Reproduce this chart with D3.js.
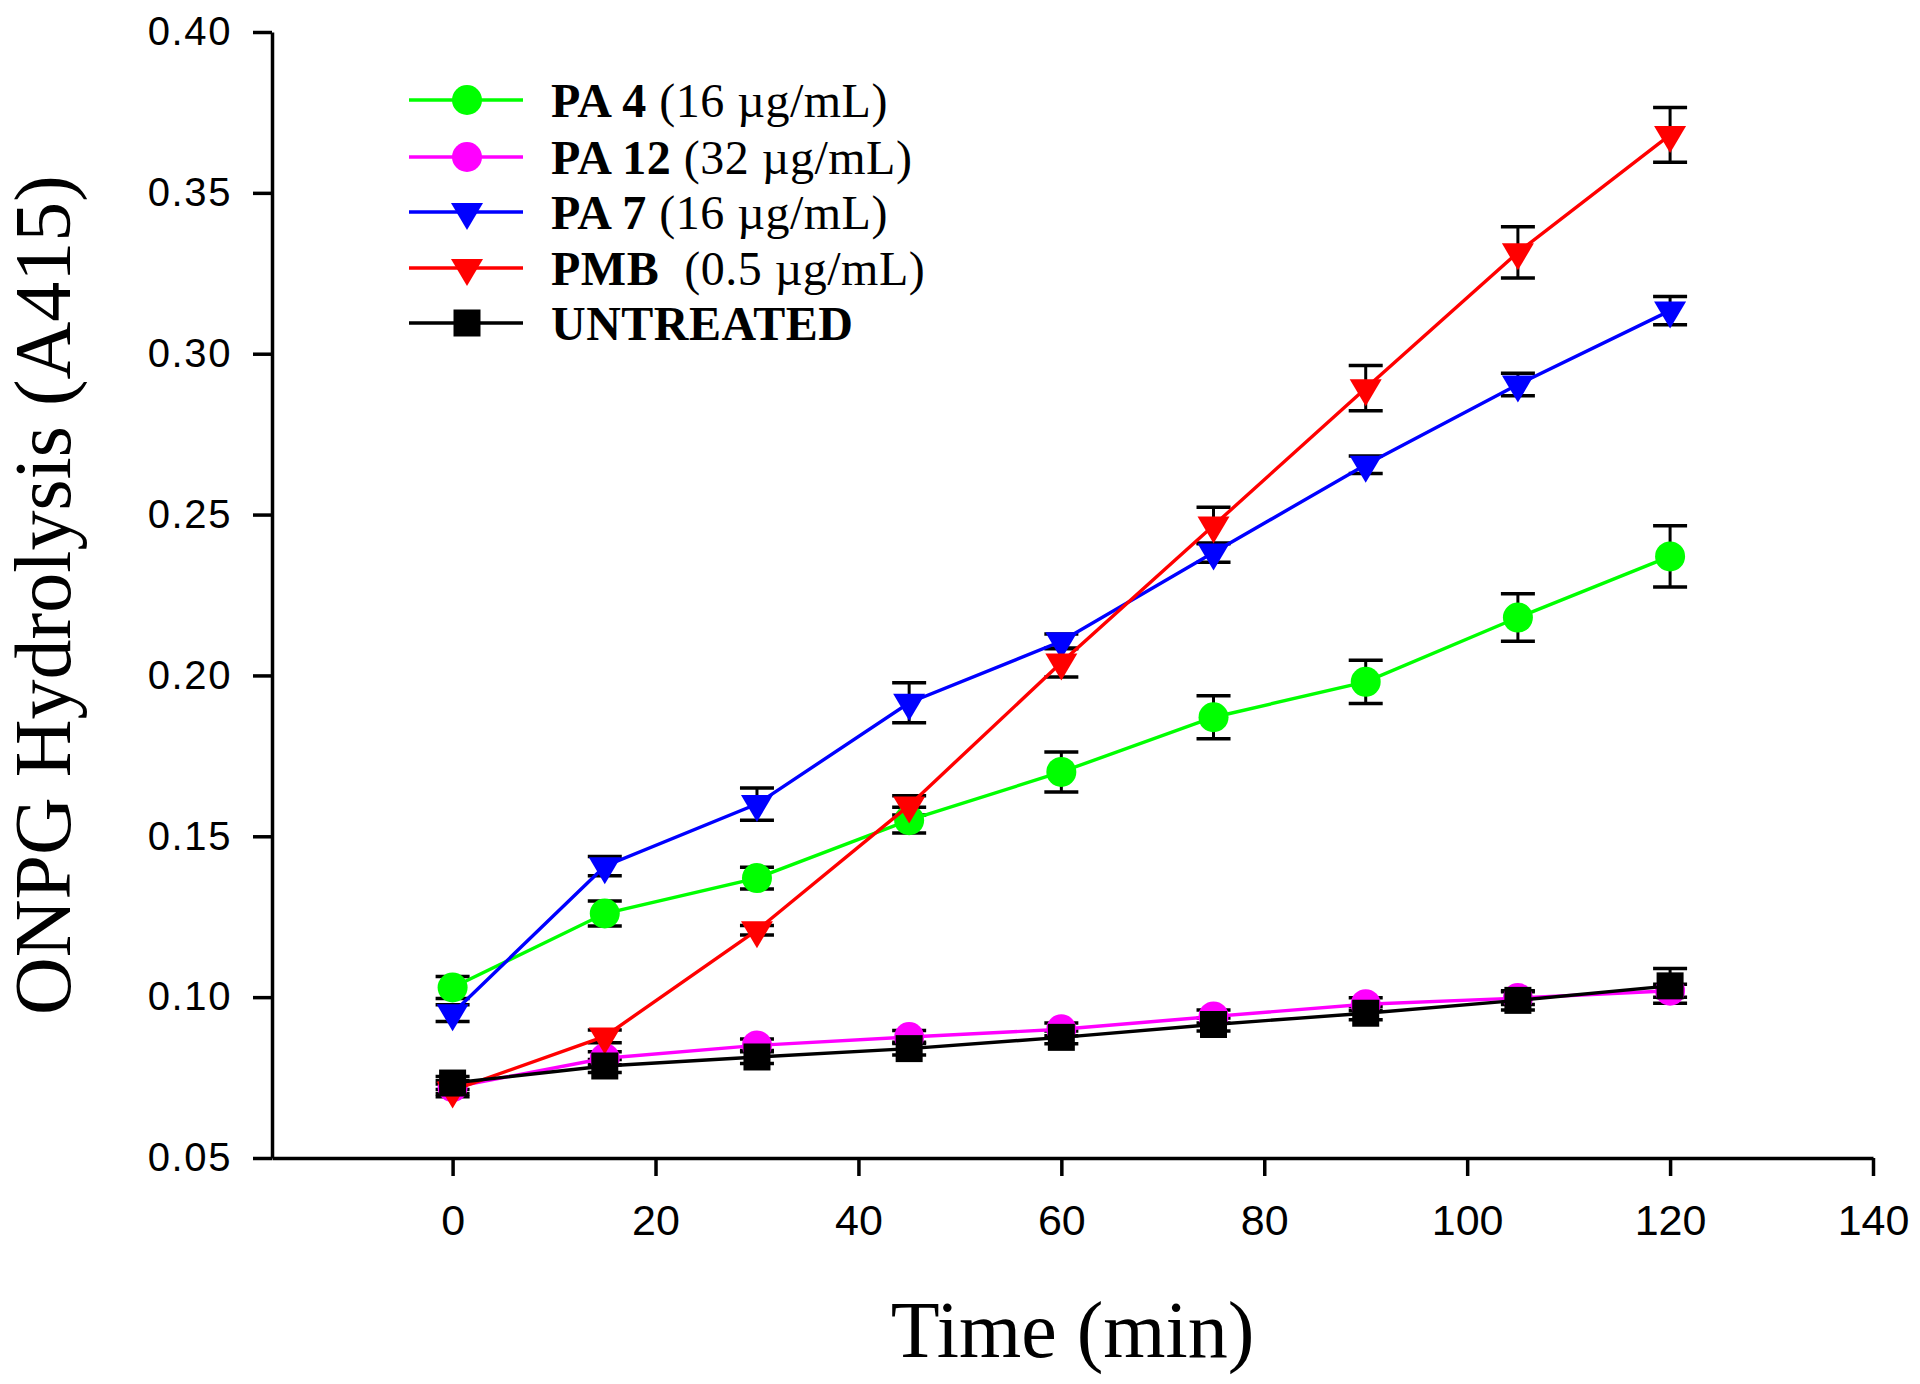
<!DOCTYPE html>
<html>
<head>
<meta charset="utf-8">
<script src="https://cdn.jsdelivr.net/npm/d3@7"></script>
<style>
  html, body { margin: 0; padding: 0; background: #fff; }
  svg { display: block; }
</style>
</head>
<body>
<svg id="chart" width="1920" height="1384"></svg>
<script>
// ---- data ----
const time = [0, 15, 30, 45, 60, 75, 90, 105, 120];
const pa4 = [0.103, 0.126, 0.137, 0.155, 0.170, 0.187, 0.198, 0.218, 0.237];
const pa4Err = [0.0034, 0.0039, 0.0034, 0.004, 0.0062, 0.0067, 0.0067, 0.0074, 0.0095];
const pa12 = [0.072, 0.081, 0.085, 0.0876, 0.090, 0.094, 0.0978, 0.0997, 0.102];
const pa12Err = [0.002, 0.002, 0.002, 0.002, 0.002, 0.002, 0.002, 0.002, 0.002];
const pa7 = [0.095, 0.1407, 0.160, 0.1915, 0.2106, 0.2382, 0.2655, 0.2904, 0.3134];
const pa7Err = [0.0026, 0.003, 0.005, 0.0062, 0.0023, 0.003, 0.0027, 0.0035, 0.0044];
const pmb = [0.071, 0.0878, 0.1208, 0.1596, 0.204, 0.2466, 0.2893, 0.3315, 0.368];
const pmbErr = [0.002, 0.002, 0.0015, 0.003, 0.0045, 0.0057, 0.007, 0.008, 0.0085];
const untreated = [0.0733, 0.0786, 0.0814, 0.084, 0.0875, 0.0915, 0.095, 0.099, 0.1035];
const untreatedErr = [0.002, 0.002, 0.002, 0.002, 0.002, 0.002, 0.002, 0.003, 0.0054];

const seriesNames = ["PA 4", "PA 12", "PA 7", "PMB", "UNTREATED"];
const seriesConc = [" (16 µg/mL)", " (32 µg/mL)", " (16 µg/mL)", "  (0.5 µg/mL)", ""];
const seriesColors = ["#00ff00", "#ff00ff", "#0000ff", "#ff0000", "#000000"];
const seriesShapes = ["circle", "circle", "triangle", "triangle", "square"];
const seriesValues = [pa4, pa12, pa7, pmb, untreated];
const seriesErrors = [pa4Err, pa12Err, pa7Err, pmbErr, untreatedErr];

const xTicks = [0, 20, 40, 60, 80, 100, 120, 140];
const yTicks = [0.05, 0.10, 0.15, 0.20, 0.25, 0.30, 0.35, 0.40];
const xDomain = [-17.8, 140];
const yDomain = [0.05, 0.40];
const xTitle = "Time (min)";
const yTitle = "ONPG Hydrolysis (A415)";

// ---- layout ----
const margin = { left: 272, right: 1920 - 1873, top: 32, bottom: 1384 - 1158 };
const W = 1920, H = 1384;
const svg = d3.select("#chart");

const x = d3.scaleLinear().domain(xDomain).range([margin.left, W - margin.right]);
const y = d3.scaleLinear().domain(yDomain).range([H - margin.bottom, margin.top]);

const sansFont = "'Liberation Sans', Arial, sans-serif";
const serifFont = "'Liberation Serif', 'Times New Roman', serif";

// axes
const yAxis = d3.axisLeft(y).tickValues(yTicks).tickFormat(d3.format(".2f"))
  .tickSizeInner(19).tickSizeOuter(0).tickPadding(21);
const xAxis = d3.axisBottom(x).tickValues(xTicks).tickFormat(d3.format("d"))
  .tickSizeInner(18).tickSizeOuter(0).tickPadding(28);

const gy = svg.append("g").attr("transform", `translate(${margin.left},0)`).call(yAxis);
const gx = svg.append("g").attr("transform", `translate(0,${H - margin.bottom})`).call(xAxis);

[gx, gy].forEach(g => {
  g.select(".domain").attr("stroke", "#000").attr("stroke-width", 3.5);
  g.selectAll(".tick line").attr("stroke", "#000").attr("stroke-width", 3.5);
  g.selectAll(".tick text").attr("fill", "#000").attr("font-family", sansFont);
});
gy.selectAll(".tick text").attr("font-size", 40).style("letter-spacing", "1.6px");
gx.selectAll(".tick text").attr("font-size", 43);

// titles
svg.append("text")
  .attr("x", (x.range()[0] + x.range()[1]) / 2)
  .attr("y", 1357)
  .attr("text-anchor", "middle")
  .attr("font-family", serifFont)
  .attr("font-size", 80)
  .attr("fill", "#000")
  .text(xTitle);

svg.append("text")
  .attr("transform", `translate(70,${(y.range()[0] + y.range()[1]) / 2}) rotate(-90)`)
  .attr("text-anchor", "middle")
  .attr("font-family", serifFont)
  .attr("font-size", 80)
  .attr("fill", "#000")
  .text(yTitle);

// marker generator
function markerPath(shape) {
  if (shape === "circle") return d3.symbol().type(d3.symbolCircle).size(Math.PI * 15 * 15)();
  if (shape === "square") return d3.symbol().type(d3.symbolSquare).size(27 * 27)();
  // downward triangle, centroid at origin
  const p = d3.path();
  p.moveTo(-16, -9); p.lineTo(16, -9); p.lineTo(0, 18); p.closePath();
  return p.toString();
}

// error bars
const plot = svg.append("g");
const capHalf = 17;
seriesValues.forEach((vals, si) => {
  const errs = seriesErrors[si];
  const g = plot.append("g").attr("class", "err");
  time.forEach((t, i) => {
    const cx = x(t), yt = y(vals[i] + errs[i]), yb = y(vals[i] - errs[i]);
    g.append("line").attr("x1", cx).attr("x2", cx).attr("y1", yt).attr("y2", yb)
      .attr("stroke", "#000").attr("stroke-width", 3);
    g.append("line").attr("x1", cx - capHalf).attr("x2", cx + capHalf).attr("y1", yt).attr("y2", yt)
      .attr("stroke", "#000").attr("stroke-width", 3.5);
    g.append("line").attr("x1", cx - capHalf).attr("x2", cx + capHalf).attr("y1", yb).attr("y2", yb)
      .attr("stroke", "#000").attr("stroke-width", 3.5);
  });
});

// lines + markers
const lineGen = d3.line().x(d => x(d[0])).y(d => y(d[1]));
seriesValues.forEach((vals, si) => {
  const pts = time.map((t, i) => [t, vals[i]]);
  plot.append("path").attr("d", lineGen(pts)).attr("fill", "none")
    .attr("stroke", seriesColors[si]).attr("stroke-width", 3.4);
  plot.append("g").selectAll("path").data(pts).join("path")
    .attr("d", markerPath(seriesShapes[si]))
    .attr("transform", d => `translate(${x(d[0])},${y(d[1])})`)
    .attr("fill", seriesColors[si]);
});

// legend
const legend = svg.append("g");
const legendRowY = [100, 157, 212, 268, 323];
seriesNames.forEach((name, i) => {
  const ry = legendRowY[i];
  legend.append("line").attr("x1", 409).attr("x2", 523).attr("y1", ry).attr("y2", ry)
    .attr("stroke", seriesColors[i]).attr("stroke-width", 3.4);
  legend.append("path").attr("d", markerPath(seriesShapes[i]))
    .attr("transform", `translate(467,${ry})`).attr("fill", seriesColors[i]);
  const txt = legend.append("text").attr("x", 551).attr("y", ry + 17)
    .attr("font-family", serifFont).attr("font-size", 48).attr("fill", "#000")
    .style("white-space", "pre").style("letter-spacing", "0.5px");
  txt.append("tspan").attr("font-weight", "bold").text(name);
  if (seriesConc[i]) txt.append("tspan").text(seriesConc[i]);
});
</script>
</body>
</html>
